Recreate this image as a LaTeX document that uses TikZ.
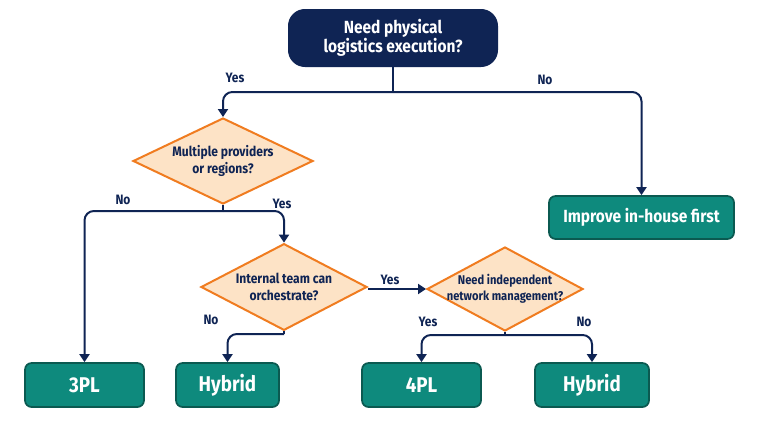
\documentclass[tikz,border=0pt]{standalone}
\usepackage{fontspec}
\setmainfont{Fira Sans}[FakeStretch=0.88]
\usetikzlibrary{shapes.geometric,arrows.meta}
\definecolor{navy}{HTML}{0F2454}
\definecolor{teal}{HTML}{0E8A7D}
\definecolor{tealdark}{HTML}{0B5A51}
\definecolor{peach}{HTML}{FDE3C6}
\definecolor{orangeline}{HTML}{F07C20}
\tikzset{
  startbox/.style={draw=navy, fill=navy, line width=1.5pt, rounded corners=12pt, text=white,
    font=\bfseries\fontsize{13.2}{14}\selectfont, align=center, inner sep=0pt},
  decision/.style={diamond, draw=orangeline, fill=peach, line width=1.5pt, inner sep=0pt},
  dtext/.style={text=navy, align=center, font=\bfseries\fontsize{10.3}{12.8}\selectfont},
  result/.style={draw=tealdark, fill=teal, line width=1.3pt, rounded corners=5pt, text=white,
    font=\bfseries\fontsize{16}{18}\selectfont, inner sep=0pt},
  conn/.style={draw=navy, line width=1.5pt, rounded corners=7pt},
  arr/.style={conn, -{Triangle[width=7.5pt,length=6pt]}},
  lbl/.style={text=navy, font=\bfseries\fontsize{10.2}{11}\selectfont}
}
\begin{document}
\begin{tikzpicture}[x=0.75pt,y=-0.75pt]
\useasboundingbox[fill=white] (0,0) rectangle (768,432);

% nodes
\node[startbox, minimum width=156pt, minimum height=42pt] (top) at (393,38) {Need physical\\logistics execution?};
\node[decision, minimum width=135pt, minimum height=64.5pt,
  label={[dtext]center:{Multiple providers\\or regions?}}] (d1) at (223,161) {};
\node[decision, minimum width=124.5pt, minimum height=65pt,
  label={[dtext]center:{Internal team can\\orchestrate?}}] (d2) at (284,287) {};
\node[decision, minimum width=117pt, minimum height=63pt,
  label={[dtext, font=\bfseries\fontsize{9.5}{12}\selectfont]center:{Need independent\\network management?}}] (d3) at (505,289) {};

\node[result, minimum width=138.75pt, minimum height=32.25pt, font=\bfseries\fontsize{13.2}{15}\selectfont] (inh) at (641.5,217.5) {Improve in-house first};
\node[result, minimum width=89.25pt, minimum height=33pt] (p3) at (84.5,385) {3PL};
\node[result, minimum width=77.25pt, minimum height=33pt] (hy1) at (227.5,385) {Hybrid};
\node[result, minimum width=89.25pt, minimum height=33pt] (p4) at (421.5,385) {4PL};
\node[result, minimum width=85.5pt, minimum height=33pt] (hy2) at (592,385) {Hybrid};

% connectors
\coordinate (j1) at (393,92);
\draw[conn] (top.south) -- (j1);
\draw[arr] (j1) -| (d1.north);
\draw[arr] (j1) -| (inh.north);
\node[lbl] (y1) at (235,78) {Yes};
\node[lbl] (n1) at (545,80) {No};

\coordinate (j2) at (223,211);
\draw[conn] (d1.south) -- (j2);
\draw[arr] (j2) -| (p3.north);
\draw[arr] (j2) -| (d2.north);
\node[lbl] (n2) at (123,200) {No};
\node[lbl] (y2) at (282,204) {Yes};

\draw[arr] (d2.east |- d3.west) -- (d3.west);
\node[lbl] (y3) at (390,280) {Yes};

\coordinate (j3) at (284,334);
\draw[conn] (d2.south) -- (j3);
\draw[arr] (j3) -| (hy1.north);
\node[lbl] (n3) at (211,320) {No};

\coordinate (j4) at (505,335);
\draw[conn] (d3.south) -- (j4);
\draw[arr] (j4) -| (p4.north);
\draw[arr] (j4) -| (hy2.north);
\node[lbl] (y4) at (428,322) {Yes};
\node[lbl] (n4) at (584,322) {No};
\end{tikzpicture}
\end{document}
